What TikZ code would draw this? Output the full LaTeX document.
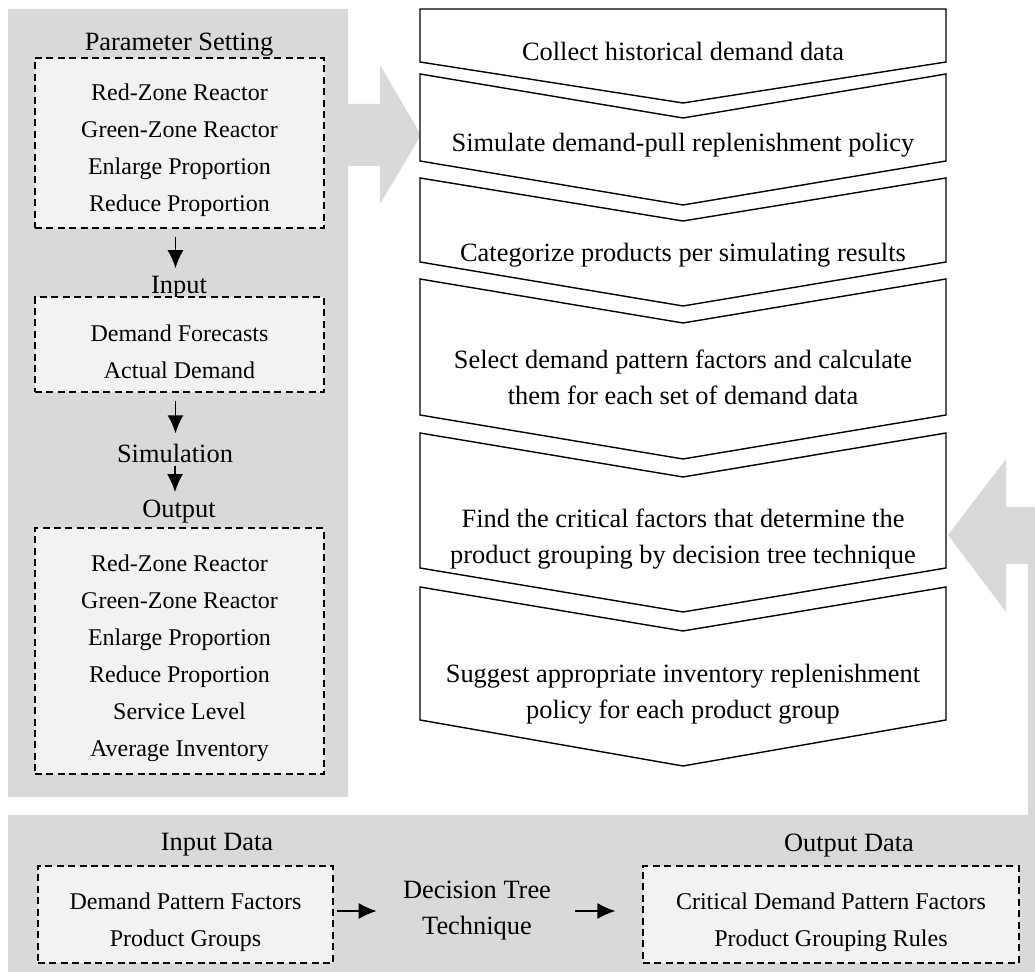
\documentclass[tikz,border=0pt]{standalone}
\usepackage{fontspec}
\setmainfont{Liberation Serif}
\usetikzlibrary{positioning,calc,arrows.meta}
\definecolor{panelgray}{HTML}{D9D9D9}
\definecolor{boxgray}{HTML}{F2F2F2}
\newcommand{\boxtop}{\rule{0pt}{16pt}}

\begin{document}
\begin{tikzpicture}[
  x=0.5pt,y=-0.5pt,
  every node/.style={inner sep=1pt},
  head-text/.style={font=\fontsize{13.2}{18}\selectfont},
  list-box/.style={draw,fill=boxgray,line width=0.6pt,dash pattern=on 3.5pt off 2.2pt,
    align=center,font=\fontsize{12}{18.5}\selectfont},
  step-text/.style={align=center,font=\fontsize{13.2}{18}\selectfont},
  step-shape/.style={draw,fill=white,line width=0.7pt,line join=miter},
  flow-arrow/.style={draw,line width=0.75pt,-{Latex[length=9pt,width=8pt]}},
  ]

  \useasboundingbox (0,0) rectangle (1035,972);

  % grey panels with the two broad arrows
  \fill[panelgray] (8,9) -- (348,9) -- (348,104) -- (380,104) -- (380,65) -- (421,135)
    -- (380,204) -- (380,166) -- (348,166) -- (348,797) -- (8,797) -- cycle;
  \fill[panelgray] (948,535) -- (1006,459) -- (1006,507) -- (1035,507) -- (1035,972)
    -- (8,972) -- (8,815) -- (1028,815) -- (1028,564) -- (1006,564) -- (1006,612) -- cycle;

  % chevron steps
  \draw[step-shape] (420,9) -- (946,9) -- (946,62) -- (683,103) -- (420,62) -- cycle;
  \draw[step-shape] (420,74) -- (683,118) -- (946,74) -- (946,161) -- (683,205) -- (420,161) -- cycle;
  \draw[step-shape] (420,178) -- (683,221) -- (946,178) -- (946,262) -- (683,306) -- (420,262) -- cycle;
  \draw[step-shape] (420,279) -- (683,323) -- (946,279) -- (946,415) -- (683,459) -- (420,415) -- cycle;
  \draw[step-shape] (420,433) -- (683,477) -- (946,433) -- (946,568) -- (683,612) -- (420,568) -- cycle;
  \draw[step-shape] (420,587) -- (683,631) -- (946,587) -- (946,720) -- (683,766) -- (420,720) -- cycle;

  \node[step-text] (collect-step) at (683,51) {Collect historical demand data};
  \node[step-text] (simulate-step) at (683,145) {Simulate demand-pull replenishment policy};
  \node[step-text] (categorize-step) at (683,255) {Categorize products per simulating results};
  \node[step-text] (select-step) at (683,377) {Select demand pattern factors and calculate\\them for each set of demand data};
  \node[step-text] (find-step) at (683,539) {Find the critical factors that determine the\\product grouping by decision tree technique};
  \node[step-text] (suggest-step) at (683,694) {Suggest appropriate inventory replenishment\\policy for each product group};

  % simulation panel
  \node[head-text] (ps-label) at (179,45) {Parameter Setting};
  \node[list-box,minimum width=144.5pt,minimum height=85pt] (ps-box) at (179.5,143)
    {\boxtop Red-Zone Reactor\\Green-Zone Reactor\\Enlarge Proportion\\Reduce Proportion};
  \node[head-text] (input-label) at (179,288) {Input};
  \node[list-box,minimum width=144.5pt,minimum height=47.5pt] (input-box) at (179.5,344.5)
    {\boxtop Demand Forecasts\\Actual Demand};
  \node[head-text] (sim-label) at (175,453) {Simulation};
  \node[head-text] (output-label) at (179,512) {Output};
  \node[list-box,minimum width=144.5pt,minimum height=123pt] (output-box) at (179.5,651)
    {\boxtop Red-Zone Reactor\\Green-Zone Reactor\\Enlarge Proportion\\Reduce Proportion\\Service Level\\Average Inventory};

  \draw[flow-arrow,shorten <=4pt,shorten >=3pt] ([xshift=-2pt]ps-box.south) -- ([xshift=-2pt]ps-box.south |- input-label.north);
  \draw[flow-arrow,shorten <=4pt,shorten >=4pt] ([xshift=-2pt]input-box.south) -- ([xshift=-2pt]input-box.south |- sim-label.north);
  \draw[flow-arrow,shorten <=0.5pt,shorten >=3pt] (sim-label.south) -- (sim-label.south |- output-label.north);

  % decision tree panel
  \node[head-text] (indata-label) at (217,845) {Input Data};
  \node[list-box,minimum width=147.5pt,minimum height=48.5pt] (indata-box) at (185.5,914.5)
    {\boxtop Demand Pattern Factors\\Product Groups};
  \node[head-text,align=center] (tree-label) at (477,911) {Decision Tree\\Technique};
  \node[head-text] (outdata-label) at (849,846) {Output Data};
  \node[list-box,minimum width=188pt,minimum height=48.5pt] (outdata-box) at (831,914.5)
    {\boxtop Critical Demand Pattern Factors\\Product Grouping Rules};

  \draw[flow-arrow,shorten <=1.5pt,shorten >=12pt] (indata-box.east |- tree-label.west) -- (tree-label.west);
  \draw[flow-arrow,shorten <=11pt,shorten >=13.5pt] (tree-label.east) -- (tree-label.east -| outdata-box.west);

\end{tikzpicture}
\end{document}
